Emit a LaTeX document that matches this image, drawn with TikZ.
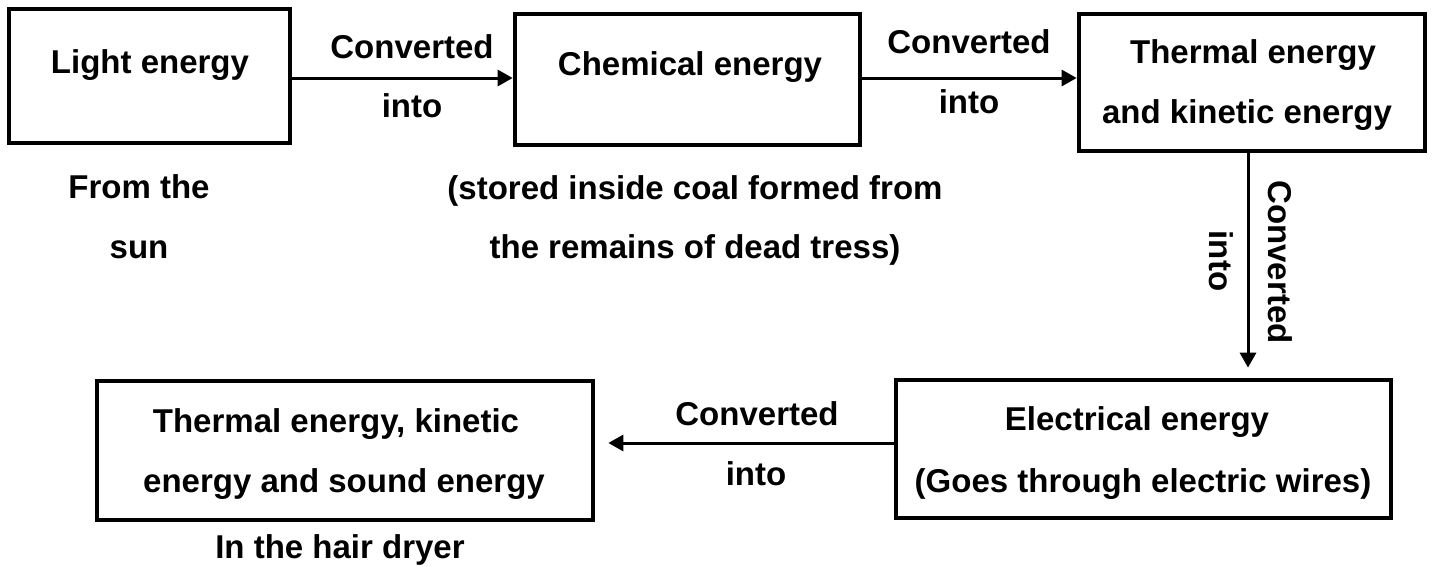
\documentclass[tikz,border=0pt]{standalone}
\usepackage{fontspec}
\setmainfont{Liberation Sans}
\usetikzlibrary{arrows.meta}
\begin{document}
\begin{tikzpicture}[x=1pt,y=-1pt,
  box/.style={draw=black,line width=4.7pt,rectangle,inner sep=0pt},
  txt/.style={anchor=base,inner sep=0pt,font=\fontsize{33}{40}\selectfont\bfseries},
  arr/.style={line width=3pt,-{Triangle[length=15pt,width=16pt]}}]
\useasboundingbox (0,0) rectangle (1433,566);
% boxes
\node[box,minimum width=281pt,minimum height=134pt] (light) at (149.5,76) {};
\node[box,minimum width=345pt,minimum height=131pt] (chem) at (687.5,79.5) {};
\node[box,minimum width=346pt,minimum height=137pt] (therm) at (1252,82.5) {};
\node[box,minimum width=495pt,minimum height=138pt] (elec) at (1143.5,449) {};
\node[box,minimum width=496pt,minimum height=139pt] (final) at (345,450.5) {};
% box texts
\node[txt] (tlight) at (150,73) {Light energy};
\node[txt] (tchem) at (690,75) {Chemical energy};
\node[txt] (ttherm1) at (1253,63) {Thermal energy};
\node[txt] (ttherm2) at (1247,123) {and kinetic energy};
\node[txt] (telec1) at (1137,430) {Electrical energy};
\node[txt] (telec2) at (1143,492) {(Goes through electric wires)};
\node[txt] (tfinal1) at (336,432) {Thermal energy, kinetic};
\node[txt] (tfinal2) at (344,492) {energy and sound energy};
% notes
\node[txt] (nsun1) at (139,198) {From the};
\node[txt] (nsun2) at (139,258) {sun};
\node[txt] (ncoal1) at (695,199) {(stored inside coal formed from};
\node[txt] (ncoal2) at (695,258) {the remains of dead tress)};
\node[txt] (ndryer) at (340,558) {In the hair dryer};
% arrows
\draw[arr] ([yshift=1.5pt]light.east |- chem.west) -- ([yshift=1.5pt]chem.west);
\draw[arr] ([yshift=1.5pt]chem.east) -- ([yshift=1.5pt]chem.east -| therm.west);
\draw[arr,shorten >=10pt] ([xshift=-4pt]therm.south) -- ([xshift=-4pt]therm.south |- elec.north);
\draw[arr,shorten >=13pt] ([yshift=6pt]elec.west) -- ([yshift=6pt]elec.west -| final.east);
% arrow labels
\node[txt] (c1a) at (412,58) {Converted};
\node[txt] (c1b) at (412,117) {into};
\node[txt] (c2a) at (969,53) {Converted};
\node[txt] (c2b) at (969,113) {into};
\node[txt,rotate=-90] (c3a) at (1268,262) {Converted};
\node[txt,rotate=-90] (c3b) at (1209,261) {into};
\node[txt] (c4a) at (757,425) {Converted};
\node[txt] (c4b) at (756,485) {into};
\end{tikzpicture}
\end{document}
